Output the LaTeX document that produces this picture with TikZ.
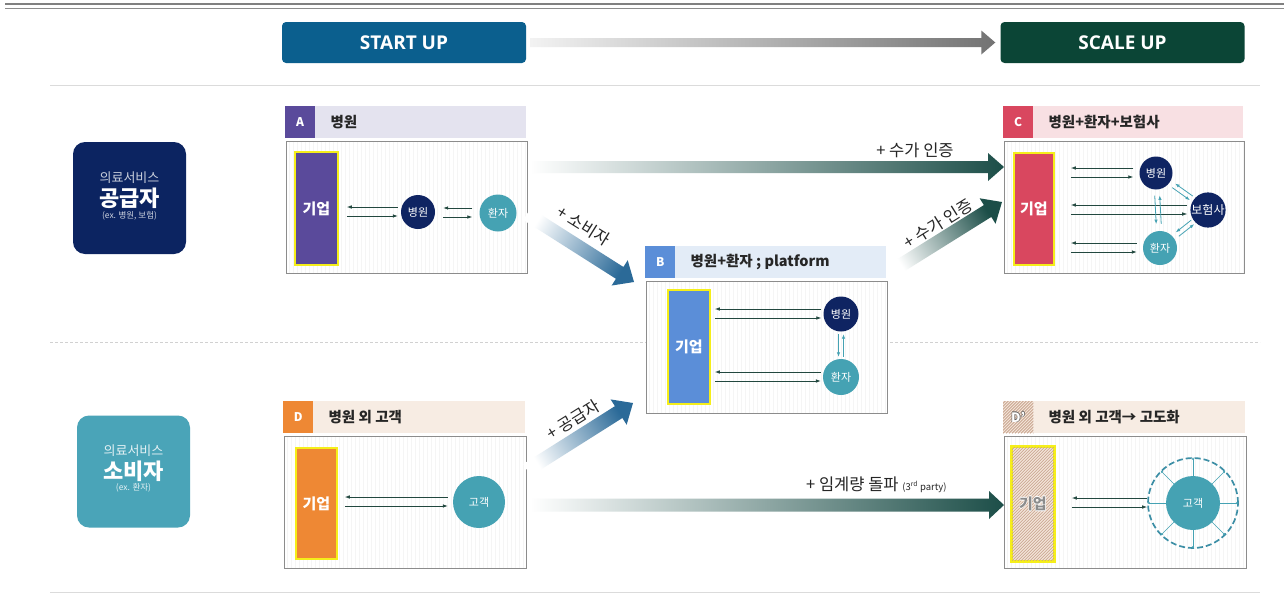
\documentclass[tikz,border=0pt]{standalone}
\usepackage{fontspec}
\setmainfont{Noto Sans CJK KR}
\newfontfamily\latinsans{Open Sans}
\usetikzlibrary{arrows.meta,calc}

\definecolor{startblue}{HTML}{0B5F8E}
\definecolor{scalegreen}{HTML}{0B4536}
\definecolor{supnavy}{HTML}{0C2461}
\definecolor{conteal}{HTML}{4AA4B8}
\definecolor{hospnavy}{HTML}{0F2462}
\definecolor{patteal}{HTML}{45A2B3}
\definecolor{arrgreen}{HTML}{22483F}
\definecolor{purpleA}{HTML}{5A4A9B}
\definecolor{headA}{HTML}{E4E3EF}
\definecolor{blueB}{HTML}{5B8ED8}
\definecolor{headB}{HTML}{E3ECF7}
\definecolor{redC}{HTML}{D9475F}
\definecolor{headC}{HTML}{F8E0E3}
\definecolor{orangeD}{HTML}{EE8834}
\definecolor{headD}{HTML}{F7ECE3}
\definecolor{hatchbg}{HTML}{F3E4D8}
\definecolor{hatchline}{HTML}{C29C86}
\definecolor{boxyellow}{HTML}{F5EE1A}
\definecolor{dialblue}{HTML}{2B6A98}
\definecolor{dialgreen}{HTML}{1C4E48}
\definecolor{ringteal}{HTML}{3D8FA6}

% text with a thin outline: outline colour, fill colour, text
\newcommand\outl[3]{\leavevmode\rlap{\color{#1}\kern-.6pt#3}\rlap{\color{#1}\kern.6pt#3}\rlap{\color{#1}\raisebox{.6pt}{#3}}\rlap{\color{#1}\raisebox{-.6pt}{#3}}{\color{#2}#3}}

% shaded block arrow: start, end, shaft half width, head half width, head length, colours, shading angle
\newcommand\bigarrow[8]{%
  \path[left color=#6, right color=#7, shading angle=#8]
    ($(#1)!#3pt!90:(#2)$) -- ($(#2)!#5pt!(#1)!#3pt!-90:(#1)$) -- ($(#2)!#5pt!(#1)!#4pt!-90:(#1)$)
    -- (#2) -- ($(#2)!#5pt!(#1)!#4pt!90:(#1)$) -- ($(#2)!#5pt!(#1)!#3pt!90:(#1)$)
    -- ($(#1)!#3pt!-90:(#2)$) -- cycle;}

% two opposite horizontal arrows between a left box and a right node
\newcommand\twoway[4]{%
  \draw[sarr] ($(#2.west)+(-#4,-5)$) -- ($(#1.east |- #2.west)+(#3,-5)$);
  \draw[sarr] ($(#1.east |- #2.west)+(#3,4)$) -- ($(#2.west)+(-#4,4)$);}

% two opposite short arrows between two round nodes
\newcommand\pairarr[5]{%
  \draw[#1] ($(#2)!#4!(#3)!2.5pt!-90:(#3)$) -- ($(#2)!#5!(#3)!2.5pt!-90:(#3)$);
  \draw[#1] ($(#2)!#5!(#3)!2.5pt!90:(#3)$) -- ($(#2)!#4!(#3)!2.5pt!90:(#3)$);}

% diagonal hatching inside a node
\newcommand\hatchin[1]{%
  \begin{scope}
    \clip (#1.north west) rectangle (#1.south east);
    \foreach \k in {-120,-117,...,48}
      \draw[hatchline, line width=0.6] ($(#1.south west)+(\k,0)$) -- ++(130,-130);
  \end{scope}}

% stage panel: name, x, header top, width, block colour, bar colour, letter, title
\newcommand\panelframe[8]{%
  \node[hdrbar, fill=#6, minimum width=#4] (#1h) at (#2,#3) {};
  \node[hdrblock, fill=#5] (#1l) at (#2,#3) {#7};
  \node[hdrtitle] (#1t) at ($(#1l.east)+(15,0)$) {#8};
  \node[body, minimum width=#4] (#1b) at ($(#2,#3)+(1,35)$) {};
  \begin{scope}
    \clip (#1b.north west) rectangle (#1b.south east);
    \foreach \k in {3,7,...,#4}
      \draw[stripe] ($(#1b.north west)+(\k,0)$) -- ($(#1b.south west)+(\k,0)$);
  \end{scope}
  \draw[bodyline] (#1b.north west) rectangle (#1b.south east);}

\begin{document}
\begin{tikzpicture}[x=1pt,y=-1pt,
  hdrbar/.style={rectangle, minimum height=32, inner sep=0, anchor=north west},
  hdrblock/.style={rectangle, minimum height=32, minimum width=30, inner sep=0, anchor=north west,
    text=white, font=\bfseries\fontsize{12}{12}\selectfont},
  hdrtitle/.style={anchor=west, inner sep=0, text=black!85, font=\bfseries\fontsize{14.5}{14.5}\selectfont},
  body/.style={rectangle, fill=white, minimum height=132, inner sep=0, anchor=north west},
  bodyline/.style={draw=black!45, line width=0.8},
  stripe/.style={draw=black!4, line width=0.6},
  corp/.style={rectangle, draw=boxyellow, line width=1.8, inner sep=0, anchor=north west,
    text=white, font=\bfseries\fontsize{15}{15}\selectfont},
  circ/.style={circle, inner sep=0, text=white, font=\fontsize{11}{11}\selectfont},
  sarr/.style={draw=arrgreen, line width=0.8, -{Latex[length=5pt,width=3.6pt]}},
  tarr/.style={draw=patteal, line width=0.8, -{Latex[length=4.5pt,width=3.4pt]}},
  stage/.style={rectangle, rounded corners=4, minimum width=244, minimum height=41, inner sep=0,
    text=white, font=\latinsans\bfseries\fontsize{19}{19}\selectfont},
  role/.style={rectangle, rounded corners=12, minimum width=113, minimum height=112, inner sep=0},
  biglabel/.style={inner sep=0, text=black!85, font=\fontsize{16.5}{16.5}\selectfont}
]
\fill[white] (0,0) rectangle (1284,605);
\useasboundingbox (0,0) rectangle (1284,605);

% rules
\draw[black!50, line width=1.8] (5,4) -- (1284,4);
\draw[black!45, line width=1] (5,8.5) -- (1284,8.5);
\draw[black!14, line width=0.9] (50,85) -- (1260,85);
\draw[black!18, line width=0.9, dash pattern=on 3pt off 2pt] (50,342) -- (1260,342);
\draw[black!14, line width=0.9] (50,592) -- (1260,592);

% stages
\node[stage, fill=startblue] (start) at (404,42.5) {START UP};
\node[stage, fill=scalegreen] (scale) at (1122.5,42.5) {SCALE UP};
\coordinate (gs) at ($(start.east)+(4,0)$);
\coordinate (ge) at ($(scale.west)+(-5,0)$);
\bigarrow{gs}{ge}{4.5}{12}{14}{black!5}{black!55}{90}

% roles
\node[role, fill=supnavy] (sup) at (129.5,198) {};
\node[text=white!78!supnavy, font=\fontsize{13}{13}\selectfont, inner sep=0] (sup1) at (129.5,178) {의료서비스};
\node[text=white, font=\bfseries\fontsize{22}{22}\selectfont, inner sep=0] (sup2) at (129.5,198.5) {공급자};
\node[text=white!80!supnavy, font=\fontsize{8.5}{8.5}\selectfont, inner sep=0] (sup3) at (129.5,215.5) {(ex. 병원, 보험)};

\node[role, fill=conteal] (con) at (133.5,471.5) {};
\node[text=white!85!conteal, font=\fontsize{13}{13}\selectfont, inner sep=0] (con1) at (133.5,451) {의료서비스};
\node[text=white, font=\bfseries\fontsize{22}{22}\selectfont, inner sep=0] (con2) at (133.5,471) {소비자};
\node[text=white!85!conteal, font=\fontsize{8.5}{8.5}\selectfont, inner sep=0] (con3) at (133.5,488) {(ex. 환자)};

% A
\panelframe{A}{285}{106}{241}{purpleA}{headA}{A}{병원}
\node[corp, fill=purpleA, minimum width=43, minimum height=113] (Ak) at (294,151) {기업};
\node[circ, fill=hospnavy, minimum size=34] (Ah) at (418,212) {병원};
\node[circ, fill=patteal, minimum size=37] (Ap) at (498,213) {환자};
\twoway{Ak}{Ah}{8}{3}
\twoway{Ah}{Ap}{8}{7}

% B
\panelframe{B}{645}{246}{241}{blueB}{headB}{B}{병원+환자 ; platform}
\node[corp, fill=blueB, minimum width=42, minimum height=114] (Bk) at (667,289) {기업};
\node[circ, fill=hospnavy, minimum size=35] (Bh) at (841,314) {병원};
\node[circ, fill=patteal, minimum size=36] (Bp) at (841,377) {환자};
\twoway{Bk}{Bh}{4}{2}
\twoway{Bk}{Bp}{4}{2}
\pairarr{tarr}{Bh}{Bp}{0.32}{0.68}

% C
\panelframe{C}{1003}{106}{240}{redC}{headC}{C}{병원+환자+보험사}
\node[corp, fill=redC, minimum width=40, minimum height=112] (Ck) at (1013,152) {기업};
\node[circ, fill=hospnavy, minimum size=33] (Ch) at (1156,173) {병원};
\node[circ, fill=hospnavy, minimum size=35, font=\fontsize{12}{12}\selectfont] (Ci) at (1208,210) {\outl{hospnavy}{white}{보험사}};
\node[circ, fill=patteal, minimum size=34] (Cp) at (1160,248) {환자};
\twoway{Ck}{Ch}{16}{6}
\twoway{Ck}{Ci}{16}{3}
\twoway{Ck}{Cp}{16}{6}
\pairarr{tarr}{Ch}{Cp}{0.3}{0.68}
\pairarr{tarr}{Ch}{Ci}{0.34}{0.68}
\pairarr{tarr}{Cp}{Ci}{0.36}{0.68}

% D
\panelframe{D}{283}{401}{242}{orangeD}{headD}{D}{병원 외 고객}
\node[corp, fill=orangeD, minimum width=41, minimum height=111] (Dk) at (295,447) {기업};
\node[circ, fill=patteal, minimum size=52] (Dc) at (479,502) {고객};
\twoway{Dk}{Dc}{7}{5}

% D'
\panelframe{E}{1003}{401}{242}{hatchbg}{headD}{}{병원 외 고객→ 고도화}
\hatchin{El}
\node[inner sep=0, font=\bfseries\fontsize{13}{13}\selectfont] (Elt) at (El.center) {\outl{black!62}{white}{D'}};
\node[corp, fill=hatchbg, minimum width=42, minimum height=114] (Ek) at (1011,446) {};
\hatchin{Ek}
\draw[boxyellow, line width=1.8] (Ek.north west) rectangle (Ek.south east);
\node[inner sep=0, font=\bfseries\fontsize{15}{15}\selectfont] (Ekt) at (Ek.center) {\outl{white}{black!45}{기업}};
\node[circ, fill=patteal, minimum size=54] (Ec) at (1193,503) {고객};
\node[circle, draw=ringteal, line width=1.7, dash pattern=on 6pt off 3pt, minimum size=90, inner sep=0] (Er) at (Ec) {};
\foreach \a in {0,45,...,315}
  \draw[patteal, line width=0.5, -{Latex[length=2.5pt,width=2.5pt]}] (Ec.\a) -- (Er.\a);
\twoway{Ek}{Er}{17}{0}

% transitions
\coordinate (acS) at (530,167);
\coordinate (acE) at (Cb.west |- acS);
\bigarrow{acS}{acE}{6}{14}{16}{white}{dialgreen}{90}
\coordinate (abS) at (527,214);
\coordinate (abE) at (634,282);
\bigarrow{abS}{abE}{7}{15}{17}{white}{dialblue}{58}
\coordinate (bcS) at (890,272);
\coordinate (bcE) at (1002,202);
\bigarrow{bcS}{bcE}{7}{15}{17}{white}{dialgreen}{122}
\coordinate (dbS) at (527,470);
\coordinate (dbE) at (633,403);
\bigarrow{dbS}{dbE}{7}{15}{17}{white}{dialblue}{122}
\coordinate (deS) at (530,505);
\coordinate (deE) at (Eb.west |- deS);
\bigarrow{deS}{deE}{6.5}{14}{15}{white}{dialgreen}{90}

\node[biglabel] (acL) at (915,150) {+ 수가 인증};
\node[biglabel, rotate=-32] (abL) at (584,226) {+ 소비자};
\node[biglabel, rotate=32] (bcL) at (938,224) {+ 수가 인증};
\node[biglabel, rotate=32] (dbL) at (573,420) {+ 공급자};
\node[biglabel, anchor=west] (deL) at (806,485) {+ 임계량 돌파 {\fontsize{9.5}{9.5}\selectfont (3\textsuperscript{rd} party)}};
\end{tikzpicture}
\end{document}
